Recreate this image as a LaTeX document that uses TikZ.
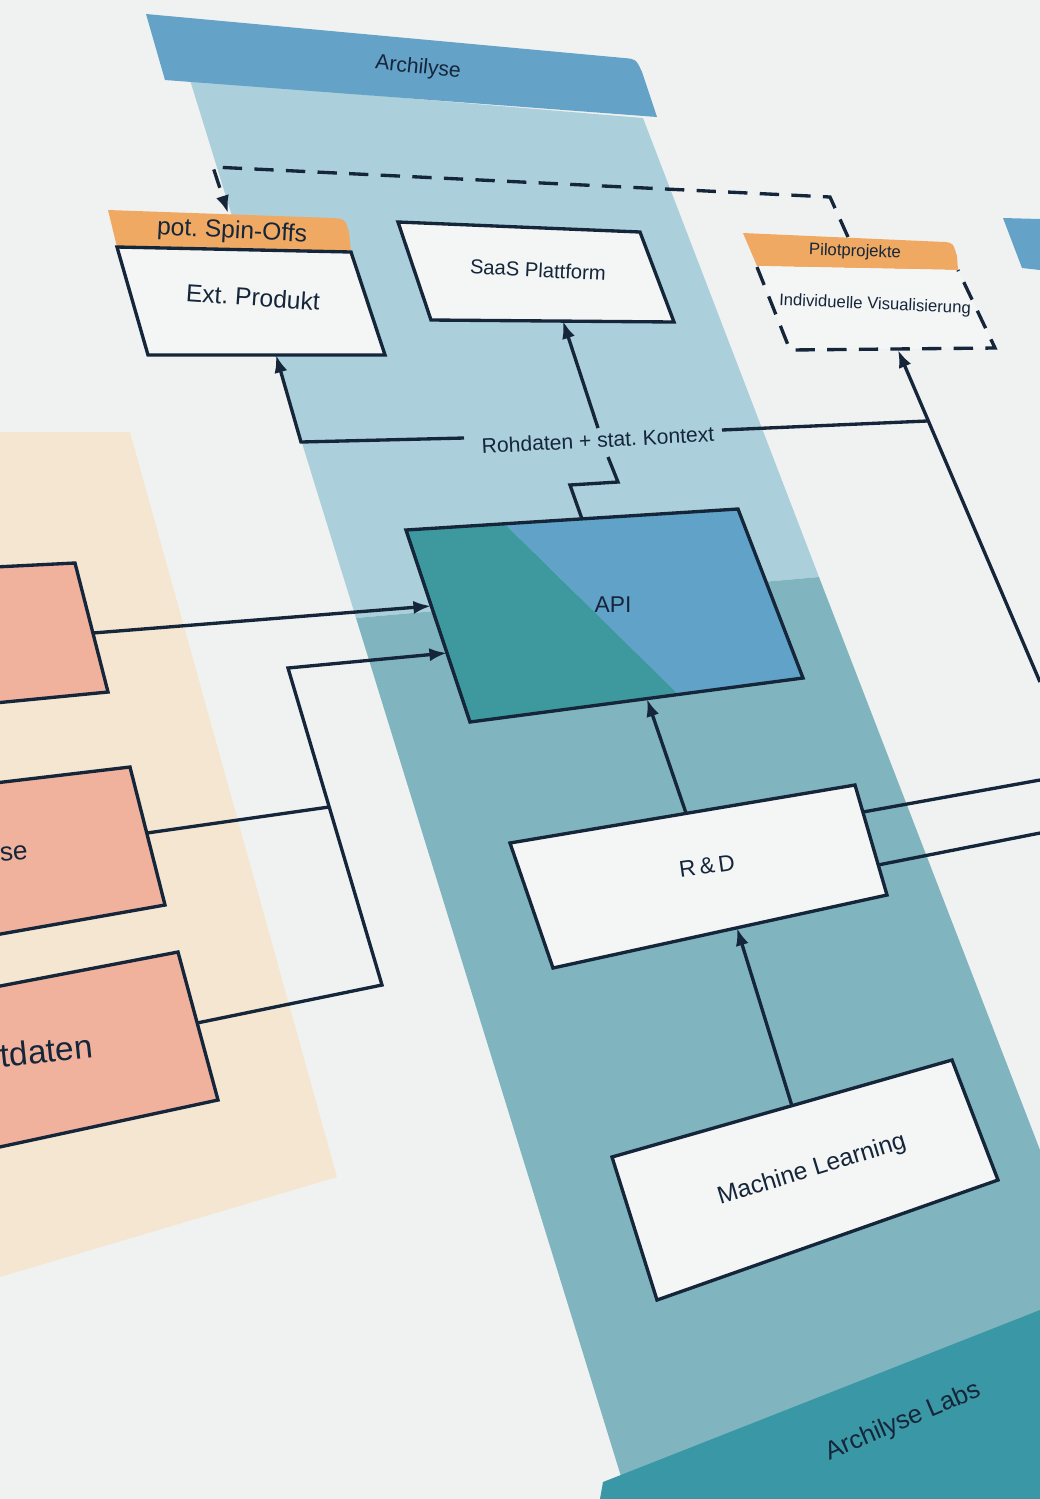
\documentclass[tikz,border=0pt]{standalone}
\usepackage{fontspec}
\setmainfont{Liberation Sans}
\usetikzlibrary{arrows.meta}
\frenchspacing
\definecolor{paper}{HTML}{F0F2F2}
\definecolor{ink}{HTML}{15263A}
\definecolor{hdrblue}{HTML}{64A2C7}
\definecolor{colblue}{HTML}{ABD0DC}
\definecolor{colteal}{HTML}{80B5BF}
\definecolor{bandteal}{HTML}{3A97A5}
\definecolor{tan}{HTML}{F4E6D0}
\definecolor{salmon}{HTML}{F0B29C}
\definecolor{orng}{HTML}{F0A962}
\definecolor{boxwhite}{HTML}{F4F5F5}
\definecolor{apiteal}{HTML}{3E999F}
\definecolor{apiblue}{HTML}{60A2C8}
\begin{document}
\begin{tikzpicture}[x=0.02cm,y=-0.02cm]
\tikzset{
  conn/.style={draw=ink,line width=1.9pt,line join=miter},
  arr/.style={conn,-{Latex[length=10pt,width=7.5pt]}},
  boxline/.style={draw=ink,line width=1.9pt,line join=miter},
  dashline/.style={draw=ink,line width=1.9pt,dash pattern=on 11pt off 7pt},
  lbl/.style={text=ink,inner sep=0pt},
}
\useasboundingbox (0,0) rectangle (1040,1499);
\clip (0,0) rectangle (1040,1499);
\fill[paper] (0,0) rectangle (1040,1499);

% ---- background areas ----
\fill[tan] (0,432) -- (130,432) -- (337,1177) -- (0,1277) -- cycle;
\fill[colblue] (190,80) -- (643,118) -- (819,577) -- (356,618) -- cycle;
\fill[colteal] (356,618) -- (819,577) -- (1040,1150) -- (1040,1499) -- (628,1499) -- cycle;
\fill[hdrblue] (146,14) -- (624,58) .. controls (636,59) .. (642,72) -- (657,117) -- (165,80) -- cycle;
\fill[bandteal] (603,1482) -- (1040,1310) -- (1040,1499) -- (600,1499) -- cycle;
\fill[hdrblue] (1003,218) -- (1040,219) -- (1040,270) -- (1022,268) -- cycle;

\node[lbl,rotate=-6,font=\fontsize{12}{14}\selectfont] (tArch) at (418,68) {Archilyse};
\node[lbl,rotate=23,font=\fontsize{14.5}{16}\selectfont] (tLabs) at (903,1422) {Archilyse Labs};

% ---- salmon boxes ----
\filldraw[salmon,boxline] (-5,567) -- (75,563) -- (108,692) -- (-5,703) -- cycle;
\filldraw[salmon,boxline] (-5,783) -- (130,767) -- (165,905) -- (-5,935) -- cycle;
\filldraw[salmon,boxline] (-5,987) -- (178,952) -- (218,1100) -- (-5,1148) -- cycle;
\node[lbl,anchor=east,rotate=5,font=\fontsize{15}{17}\selectfont] (tSe) at (28,852) {se};
\node[lbl,anchor=east,rotate=6,font=\fontsize{19}{21}\selectfont] (tDaten) at (93,1046) {tdaten};

% ---- Spin-Offs / Ext. Produkt ----
\fill[orng] (108,210) -- (333,218) .. controls (345,219) .. (349,232) -- (351,252) -- (117,247) -- cycle;
\filldraw[boxwhite,boxline] (117,247) -- (351,252) -- (385,355) -- (148,355) -- cycle;
\node[lbl,rotate=-3,font=\fontsize{14}{16}\selectfont] (tSpin) at (232,232) {pot. Spin-Offs};
\node[lbl,rotate=-4,font=\fontsize{14}{16}\selectfont] (tExt) at (253,297) {Ext. Produkt};

% ---- SaaS ----
\filldraw[boxwhite,boxline] (398,222) -- (640,232) -- (674,322) -- (431,320) -- cycle;
\node[lbl,rotate=-3,font=\fontsize{11.5}{13}\selectfont] (tSaas) at (538,270) {SaaS Plattform};

% ---- Pilotprojekte ----
\fill[orng] (743,233) -- (945,242) .. controls (953,243) .. (957,256) -- (958,270) -- (757,266) -- cycle;
\fill[boxwhite] (757,266) -- (958,270) -- (995,348) -- (790,350) -- cycle;
\draw[dashline] (757,267) -- (790,350) -- (995,348) -- (958,270);
\node[lbl,rotate=-2,font=\fontsize{9.5}{11}\selectfont] (tPilot) at (855,252) {Pilotprojekte};
\node[lbl,rotate=-2.5,font=\fontsize{9.5}{11}\selectfont] (tIndiv) at (875,305) {Individuelle Visualisierung};

% ---- API ----
\fill[apiteal] (406,530) -- (505,524) -- (678,694) -- (470,722) -- cycle;
\fill[apiblue] (505,524) -- (738,509) -- (803,678) -- (678,694) -- cycle;
\draw[boxline] (406,530) -- (738,509) -- (803,678) -- (470,722) -- cycle;
\node[lbl,font=\fontsize{13}{15}\selectfont] (tApi) at (613,605) {API};

% ---- R&D ----
\filldraw[boxwhite,boxline] (510,843) -- (855,785) -- (887,895) -- (553,968) -- cycle;
\node[lbl,rotate=8,font=\fontsize{13}{15}\selectfont] (tRD) at (707,866) {R\,\&\,D};

% ---- Machine Learning ----
\filldraw[boxwhite,boxline] (612,1157) -- (952,1060) -- (998,1180) -- (657,1300) -- cycle;
\node[lbl,rotate=17,font=\fontsize{14}{16}\selectfont] (tML) at (812,1170) {Machine Learning};

% ---- label Rohdaten ----
\node[lbl,rotate=3,font=\fontsize{12}{14}\selectfont] (tRoh) at (598,440) {Rohdaten + stat. Kontext};

% ---- connector points ----
\coordinate (b1R) at (93,633);
\coordinate (b2R) at (147,833);
\coordinate (b3R) at (197,1023);
\coordinate (apiIn1) at (431,606);
\coordinate (apiIn2) at (447,653);
\coordinate (brA) at (382,985);
\coordinate (brB) at (288,668);
\coordinate (brJ) at (329,807);
\coordinate (apiTop) at (582,519);
\coordinate (stA) at (570,485);
\coordinate (stB) at (618,482);
\coordinate (stC) at (608,457);
\coordinate (upA) at (598,428);
\coordinate (saasB) at (563,321);
\coordinate (lA) at (464,438);
\coordinate (lB) at (301,442);
\coordinate (extB) at (276,355);
\coordinate (rA) at (722,430);
\coordinate (rJ) at (927,421);
\coordinate (rEdge) at (1040,682);
\coordinate (pilotB) at (898,350);
\coordinate (rdTop) at (686,813);
\coordinate (apiBot) at (647,699);
\coordinate (mlTop) at (792,1106);
\coordinate (rdBot) at (737,928);
\coordinate (rdR1) at (863,812);
\coordinate (rdR2) at (878,865);
\coordinate (edge1) at (1040,780);
\coordinate (edge2) at (1040,833);
\coordinate (dA) at (848,237);
\coordinate (dB) at (830,197);
\coordinate (dC) at (213,167);
\coordinate (spinT) at (228,213);

% ---- connectors ----
\draw[arr] (b1R) -- (apiIn1);
\draw[arr] (b3R) -- (brA) -- (brB) -- (apiIn2);
\draw[conn] (b2R) -- (brJ);
\draw[conn] (apiTop) -- (stA) -- (stB) -- (stC);
\draw[arr] (upA) -- (saasB);
\draw[arr] (lA) -- (lB) -- (extB);
\draw[conn] (rA) -- (rJ);
\draw[arr] (rEdge) -- (pilotB);
\draw[arr] (rdTop) -- (apiBot);
\draw[arr] (mlTop) -- (rdBot);
\draw[conn] (rdR1) -- (edge1);
\draw[conn] (rdR2) -- (edge2);
\draw[dashline,-{Latex[length=10pt,width=7.5pt]}] (dA) -- (dB) -- (dC) -- (spinT);
\end{tikzpicture}
\end{document}
